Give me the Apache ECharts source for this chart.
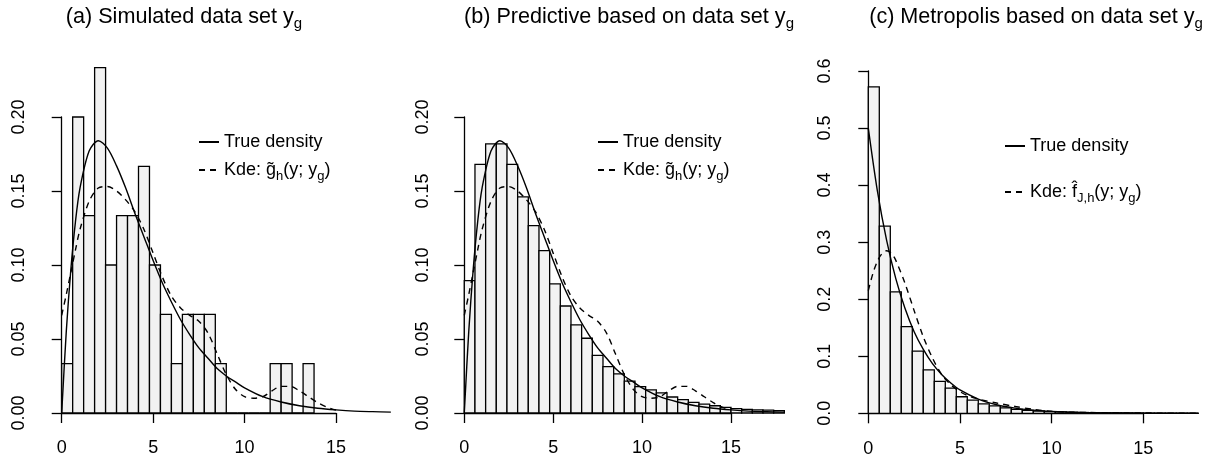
<!DOCTYPE html>
<html>
<head>
<meta charset="utf-8">
<script src="https://cdn.jsdelivr.net/npm/echarts@6/dist/echarts.min.js"></script>
<style>
  html, body { margin: 0; padding: 0; background: #fff; }
  #chart { width: 1217px; height: 473px; }
</style>
</head>
<body>
<div id="chart"></div>
<script>
  // histogram bins all start at 0 and are 0.6 wide
  const binWidth = 0.6
  const histA = [0.0333, 0.2, 0.1333, 0.2333, 0.1, 0.1333, 0.1333, 0.1667, 0.1, 0.0667, 0.0333, 0.0667,
    0.0667, 0.0667, 0.0333, 0, 0, 0, 0, 0.0333, 0.0333, 0, 0.0333]
  const histB = [0.0894, 0.168, 0.1818, 0.1818, 0.168, 0.146, 0.1266, 0.1097, 0.0872, 0.0723, 0.0595, 0.0505,
    0.039, 0.0313, 0.0264, 0.0215, 0.0178, 0.0156, 0.0136, 0.0108, 0.009, 0.0072, 0.006, 0.0049, 0.0038,
    0.003, 0.0025, 0.0021, 0.0019, 0.0016]
  const histC = [0.572, 0.328, 0.213, 0.152, 0.109, 0.076, 0.056, 0.044, 0.029, 0.023, 0.0165, 0.013, 0.0095,
    0.007, 0.0052, 0.004, 0.003, 0.0024, 0.0018, 0.0014, 0.0011, 0.0009, 0.0007, 0.0005, 0.0004, 0.0003,
    0.0003, 0.0002, 0.0002, 0.0001]

  // true density (panels a, b)
  const trueGX = [0, 0.25, 0.5, 0.75, 1, 1.5, 2, 2.5, 3, 3.5, 4, 4.5, 5, 5.5, 6, 6.5, 7, 7.5, 8, 8.5, 9, 9.5,
    10, 11, 12, 13, 14, 15, 16, 17, 18]
  const trueGY = [0, 0.055, 0.097, 0.129, 0.152, 0.177, 0.184, 0.179, 0.167, 0.152, 0.135, 0.119, 0.103, 0.088,
    0.075, 0.063, 0.053, 0.044, 0.037, 0.030, 0.025, 0.021, 0.017, 0.011, 0.0074, 0.0049, 0.0032, 0.0021,
    0.0013, 0.0009, 0.0006]
  // kde of y_g (panels a, b)
  const kdeGX = [0, 0.25, 0.5, 0.75, 1, 1.5, 2, 2.5, 3, 3.5, 4, 4.5, 5, 5.5, 6, 6.5, 7, 7.5, 8, 8.5, 9, 9.5,
    10, 10.5, 11, 11.5, 12, 12.5, 13, 13.5, 14, 14.5, 15]
  const kdeGY = [0.066, 0.080, 0.095, 0.110, 0.124, 0.143, 0.152, 0.153, 0.150, 0.144, 0.136, 0.124, 0.108,
    0.092, 0.079, 0.071, 0.066, 0.062, 0.054, 0.040, 0.026, 0.016, 0.011, 0.010, 0.011, 0.015, 0.018, 0.018,
    0.015, 0.011, 0.007, 0.004, 0.002]
  // panel c
  const trueCX = [0, 0.5, 1, 1.5, 2, 2.5, 3, 3.5, 4, 4.5, 5, 6, 7, 8, 9, 10, 12, 14, 16, 18]
  const trueCY = [0.5, 0.389, 0.303, 0.236, 0.184, 0.143, 0.112, 0.087, 0.068, 0.053, 0.041, 0.025, 0.015,
    0.009, 0.0056, 0.0034, 0.0012, 0.0005, 0.0002, 0.0001]
  const kdeCX = [0, 0.25, 0.5, 0.75, 1, 1.25, 1.5, 2, 2.5, 3, 3.5, 4, 4.5, 5, 5.5, 6, 7, 8, 9, 10, 11, 12, 13,
    14, 15, 16, 17, 18]
  const kdeCY = [0.215, 0.245, 0.267, 0.280, 0.285, 0.281, 0.268, 0.228, 0.180, 0.134, 0.097, 0.068, 0.050,
    0.038, 0.030, 0.025, 0.018, 0.012, 0.007, 0.0035, 0.002, 0.0015, 0.001, 0.0008, 0.0005, 0.0003, 0.0002, 0.0001]

  const xTicks = [0, 15, 5]          // min, max, interval
  const yTicksAB = [0, 0.2, 0.05]
  const yTicksC = [0, 0.6, 0.1]
  const xDataMax = 18.2              // data region is wider than the labelled axis
  const yDataMax = [0.25, 0.25, 0.6]

  const titles = ['(a) Simulated data set y{s|g}', '(b) Predictive based on data set y{s|g}',
    '(c) Metropolis based on data set y{s|g}']
  const legendText = {
    trueA: 'True density', trueB: 'True density', trueC: 'True density',
    kdeA: 'Kde: g\u0303{s|h}(y; y{s|g})', kdeB: 'Kde: g\u0303{s|h}(y; y{s|g})',
    kdeC: 'Kde: f\u0302{s|J,h}(y; y{s|g})'
  }

  const FONT = '"Liberation Sans", Arial, Helvetica, sans-serif'

  // pixel layout of the three panels
  const panels = [
    { axisX: 48.3, x0: 61.7, x15: 336, y0: 413, yTop: 117, titleX: 184, legX: 198, legY: 129, legGap: 2 },
    { axisX: 451.7, x0: 464.3, x15: 731, y0: 413, yTop: 117, titleX: 629, legX: 597, legY: 129, legGap: 2 },
    { axisX: 854.3, x0: 868.3, x15: 1143.3, y0: 413.3, yTop: 71, titleX: 1036, legX: 1004, legY: 133, legGap: 20 }
  ]

  const zip = (xs, ys) => xs.map((x, i) => [x, ys[i]])
  const bins = h => h.map((v, i) => [i * binWidth, (i + 1) * binWidth, v])

  function renderBin(params, api) {
    const p0 = api.coord([api.value(0), api.value(2)])
    const p1 = api.coord([api.value(1), 0])
    return {
      type: 'rect',
      shape: { x: p0[0], y: p0[1], width: p1[0] - p0[0], height: p1[1] - p0[1] },
      style: { fill: '#f2f2f2', stroke: '#000', lineWidth: 1.3 }
    }
  }

  const black = { color: '#000', width: 1.3 }
  const sub = { fontSize: 13, lineHeight: 14, padding: [12, 0, 0, 0], fontFamily: FONT, color: '#000' }

  // axis grids (0..2) carry the visible R-style axes, data grids (3..5) the marks
  const axisGrids = panels.map(p => ({
    left: p.x0, top: p.yTop, width: p.x15 - p.x0, height: p.y0 - p.yTop
  }))
  const dataGrids = panels.map((p, i) => {
    const yMax = i === 2 ? yTicksC[1] : yTicksAB[1]
    const h = (p.y0 - p.yTop) * yDataMax[i] / yMax
    return {
      left: p.x0, top: p.y0 - h, height: h,
      width: (p.x15 - p.x0) * xDataMax / xTicks[1]
    }
  })

  const option = {
    animation: false,
    backgroundColor: '#fff',
    title: panels.map((p, i) => ({
      text: titles[i],
      left: p.titleX,
      top: 2,
      padding: 0,
      textAlign: 'center',
      textStyle: {
        fontSize: 21.6, fontWeight: 'normal', color: '#000', fontFamily: FONT, lineHeight: 30,
        rich: { s: { fontSize: 15, lineHeight: 16, padding: [14, 0, 0, 0], fontFamily: FONT, color: '#000' } }
      }
    })),
    legend: panels.map((p, i) => {
      const k = 'ABC'[i]
      return {
        orient: 'vertical',
        left: p.legX,
        top: p.legY,
        padding: 0,
        itemWidth: 20,
        itemHeight: 14,
        itemGap: p.legGap,
        selectedMode: false,
        data: ['true' + k, 'kde' + k],
        formatter: name => legendText[name],
        itemStyle: { opacity: 0 },
        textStyle: { fontSize: 18, color: '#000', fontFamily: FONT, lineHeight: 26, rich: { s: sub } }
      }
    }),
    grid: axisGrids.concat(dataGrids),
    xAxis: panels.map((p, i) => ({
      gridIndex: i,
      type: 'value',
      min: xTicks[0], max: xTicks[1], interval: xTicks[2],
      offset: 14.5,
      axisLine: { show: true, lineStyle: black },
      axisTick: { show: true, length: 10, lineStyle: black },
      axisLabel: { color: '#000', fontSize: 18, fontFamily: FONT, margin: 12 },
      splitLine: { show: false }
    })).concat(panels.map((p, i) => ({
      gridIndex: 3 + i, type: 'value', show: false, min: 0, max: xDataMax
    }))),
    yAxis: panels.map((p, i) => {
      const t = i === 2 ? yTicksC : yTicksAB
      return {
        gridIndex: i,
        type: 'value',
        min: t[0], max: t[1], interval: t[2],
        offset: p.x0 - p.axisX,
        axisLine: { show: true, lineStyle: black },
        axisTick: { show: true, length: 10, lineStyle: black },
        axisLabel: {
          color: '#000', fontSize: 18, fontFamily: FONT, rotate: 90, margin: 20,
          formatter: v => v.toFixed(i === 2 ? 1 : 2)
        },
        splitLine: { show: false }
      }
    }).concat(panels.map((p, i) => ({
      gridIndex: 3 + i, type: 'value', show: false, min: 0, max: yDataMax[i]
    }))),
    series: []
  }

  const hists = [histA, histB, histC]
  const trues = [zip(trueGX, trueGY), zip(trueGX, trueGY), zip(trueCX, trueCY)]
  const kdes = [zip(kdeGX, kdeGY), zip(kdeGX, kdeGY), zip(kdeCX, kdeCY)]

  hists.forEach((h, i) => {
    const k = 'ABC'[i]
    const ax = 3 + i
    option.series.push({
      type: 'custom', name: 'hist' + k, xAxisIndex: ax, yAxisIndex: ax,
      renderItem: renderBin, encode: { x: [0, 1], y: 2 }, data: bins(h), clip: false, silent: true
    })
    option.series.push({
      type: 'line', name: 'true' + k, xAxisIndex: ax, yAxisIndex: ax, data: trues[i],
      showSymbol: false, smooth: 0.3, clip: false, silent: true,
      itemStyle: { color: '#000' },
      lineStyle: { color: '#000', width: 1.4, type: 'solid' }
    })
    option.series.push({
      type: 'line', name: 'kde' + k, xAxisIndex: ax, yAxisIndex: ax, data: kdes[i],
      showSymbol: false, smooth: 0.3, clip: false, silent: true,
      itemStyle: { color: '#000' },
      lineStyle: { color: '#000', width: 1.4, type: [6, 5] }
    })
  })

  const chart = echarts.init(document.getElementById('chart'))
  chart.setOption(option)
  window.onresize = function () {
    chart.resize()
  }
</script>
</body>
</html>
